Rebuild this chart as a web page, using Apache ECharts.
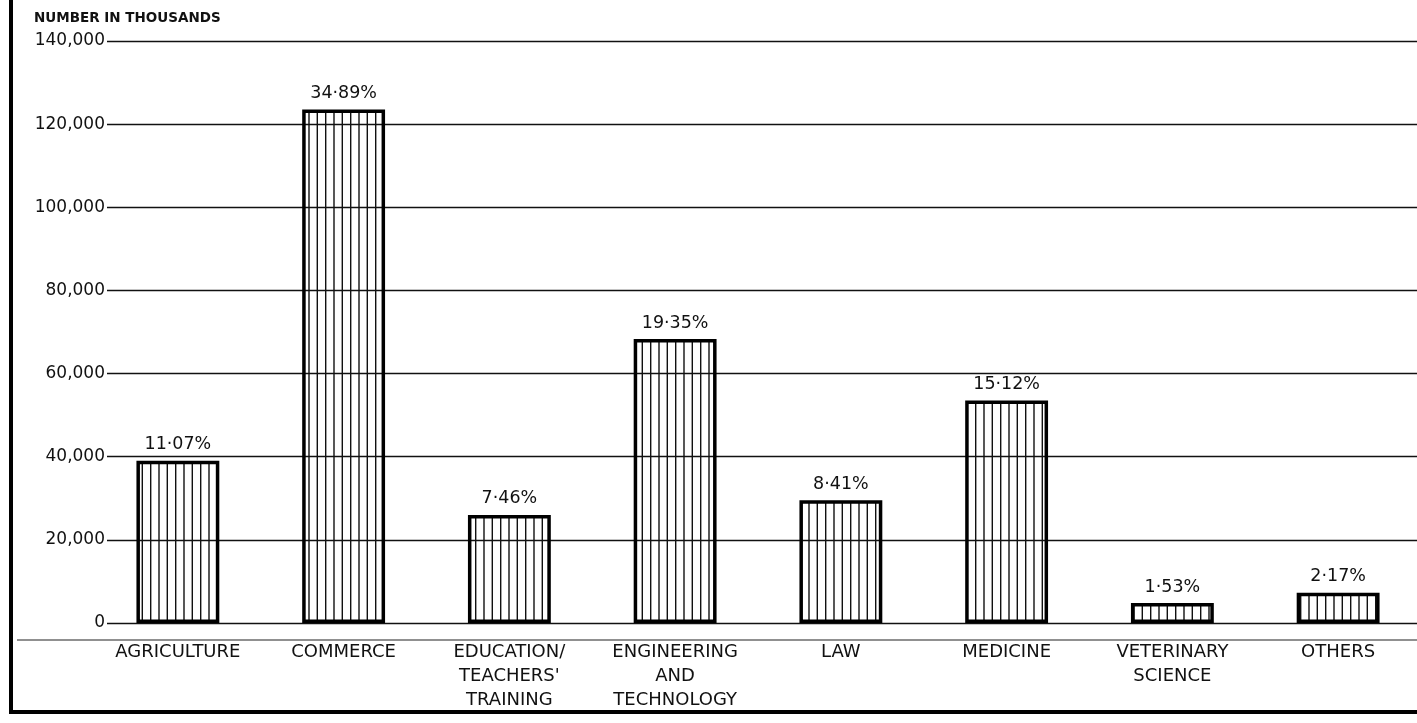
<!DOCTYPE html>
<html>
<head>
<meta charset="utf-8">
<script src="https://cdn.jsdelivr.net/npm/echarts@6/dist/echarts.min.js"></script>
<style>
  html, body {margin: 0; padding: 0; background: #fff;}
  #chart {width: 1417px; height: 723px;}
</style>
</head>
<body>
<div id="chart"></div>
<script>
// fields of study
const categories = [
    'AGRICULTURE',
    'COMMERCE',
    'EDUCATION/\nTEACHERS\'\nTRAINING',
    'ENGINEERING\nAND\nTECHNOLOGY',
    'LAW',
    'MEDICINE',
    'VETERINARY\nSCIENCE',
    'OTHERS'
]
// number in thousands
const students = [39000, 123500, 26000, 68300, 29500, 53500, 4800, 7300]
// share printed above each bar
const shares = ['11·07%', '34·89%', '7·46%', '19·35%', '8·41%', '15·12%', '1·53%', '2·17%']
const yTicks = [0, 20000, 40000, 60000, 80000, 100000, 120000, 140000]

const font = 'DejaVu Sans'

// vertical hatching for the bars
function hatch() {
    const c = document.createElement('canvas')
    c.width = 25
    c.height = 4
    const ctx = c.getContext('2d')
    ctx.strokeStyle = '#111'
    ctx.lineWidth = 1.4
    ;[0.7, 9.0, 17.3].forEach(x => {
        ctx.beginPath()
        ctx.moveTo(x, 0)
        ctx.lineTo(x, 4)
        ctx.stroke()
    })
    return c
}

const chart = echarts.init(document.getElementById('chart'), null, {renderer: 'canvas'})
chart.setOption({
    animation: false,
    backgroundColor: '#fff',
    title: {
        text: 'NUMBER IN THOUSANDS',
        left: 29,
        top: 6,
        textStyle: {fontFamily: font, fontSize: 13.5, fontWeight: 'bold', color: '#111'}
    },
    // grid runs past the right edge, like the cropped original
    grid: {left: 95, width: 1326, top: 41, bottom: 100, outerBoundsMode: 'none', containLabel: false},
    xAxis: {
        type: 'category',
        data: categories,
        axisLine: {show: false},
        axisTick: {show: false},
        axisLabel: {
            interval: 0,
            margin: 17,
            fontFamily: font,
            fontSize: 18,
            lineHeight: 24,
            color: '#111'
        }
    },
    yAxis: {
        type: 'value',
        min: yTicks[0],
        max: yTicks[yTicks.length - 1],
        interval: 20000,
        axisLine: {show: false},
        axisTick: {show: false},
        axisLabel: {
            margin: -12,
            fontFamily: font,
            fontSize: 17,
            color: '#111',
            backgroundColor: '#fff',
            padding: [2, 2, 2, 0],
            formatter: v => v.toLocaleString('en-US')
        },
        splitLine: {lineStyle: {color: '#111', width: 1.4}}
    },
    series: [{
        type: 'bar',
        data: students,
        barWidth: '50%',
        itemStyle: {
            color: {image: hatch(), repeat: 'repeat'},
            borderColor: '#000',
            borderWidth: 3.5
        },
        label: {
            show: true,
            position: 'top',
            distance: 7,
            fontFamily: font,
            fontSize: 17.5,
            color: '#111',
            formatter: p => shares[p.dataIndex]
        }
    }],
    graphic: [
        // frame on the left and bottom
        {type: 'rect', shape: {x: 9, y: 0, width: 4, height: 714}, style: {fill: '#000'}},
        {type: 'rect', shape: {x: 9, y: 710, width: 1408, height: 4}, style: {fill: '#000'}},
        // base line under the axis
        {type: 'line', shape: {x1: 17, y1: 640, x2: 1417, y2: 640}, style: {stroke: '#222', lineWidth: 1.2}}
    ]
})
</script>
</body>
</html>
